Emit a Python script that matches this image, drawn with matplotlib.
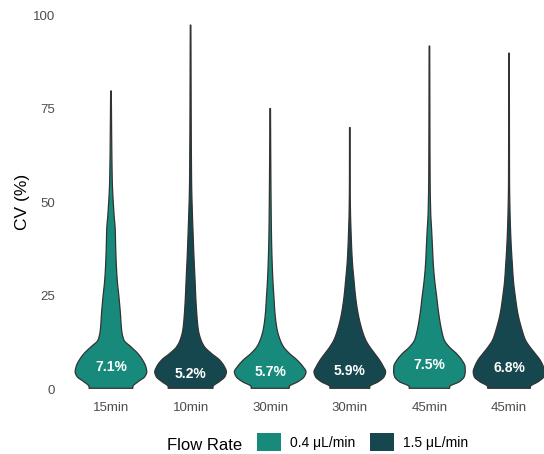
import numpy as np
import matplotlib
matplotlib.use("Agg")
import matplotlib.pyplot as plt
from matplotlib.patches import Patch

plt.rcParams["font.family"] = ["Liberation Sans", "DejaVu Sans"]

# Sampling time per violin and the flow rate it was run at
timepoints = ["15min", "10min", "30min", "30min", "45min", "45min"]
flow_rates = ["0.4 μL/min", "1.5 μL/min", "0.4 μL/min", "1.5 μL/min", "0.4 μL/min", "1.5 μL/min"]
medians = [7.1, 5.2, 5.7, 5.9, 7.5, 6.8]
cv_max = [79.7, 97.3, 75.0, 69.9, 91.7, 89.8]

# CV levels (%) at which the kernel density of each group is tabulated;
# the final level of each profile is that group's maximum CV
cv_levels = [0.2, 0.6, 2.0, 3.3, 4.6, 6.0, 7.8, 9.5, 11.3, 13.1, 15.8,
             20.2, 24.7, 29.1, 33.6, 38.1, 42.5, 47.0, 55.9]

# Relative density at each level (last value = density at the maximum)
density_15 = [22, 22, 27.5, 34, 36, 35, 31.7, 27, 20, 13, 10.7,
              9.5, 8, 6.3, 5.3, 4.7, 4.3, 3, 1.3, 0.3]
density_10 = [22.5, 22.5, 29, 34.5, 36, 34, 29, 21, 14, 10.5, 7.8,
              6.2, 5.2, 4.5, 3.7, 3, 2.4, 1.8, 1.0, 0.3]
density_30a = [19, 19, 28, 34, 35.8, 32.7, 26.7, 19.3, 13.3, 10, 7,
               4.8, 3.7, 2.7, 2.0, 1.5, 1.2, 1.0, 0.7, 0.3]
density_30b = [20, 20, 29, 34.5, 36, 33.7, 29.7, 25, 20, 16, 12.3,
               8.3, 5.8, 4.2, 2.7, 1.8, 1.2, 0.7, 0.35, 0.3]
density_45a = [20, 20, 30, 34.5, 35.5, 35.3, 32, 26.7, 19.5, 14.7, 12,
               9.2, 7.2, 5.2, 3.8, 3, 2.2, 1.3, 0.7, 0.3]
density_45b = [21, 21, 29, 34.3, 35.3, 33.8, 30.5, 25.7, 20.5, 16.2, 12.8,
               8.7, 6.2, 4.3, 3.2, 2.2, 1.5, 1.0, 0.5, 0.3]
densities = [density_15, density_10, density_30a, density_30b, density_45a, density_45b]

palette = {"0.4 μL/min": "#178A7C", "1.5 μL/min": "#16474F"}
violin_width = 0.9


def pchip(x, y, xn):
    """Shape-preserving cubic interpolation of the tabulated density."""
    x = np.asarray(x, float)
    y = np.asarray(y, float)
    h = np.diff(x)
    delta = np.diff(y) / h
    d = np.zeros_like(y)
    for k in range(1, len(x) - 1):
        if delta[k - 1] * delta[k] > 0:
            w1 = 2 * h[k] + h[k - 1]
            w2 = h[k] + 2 * h[k - 1]
            d[k] = (w1 + w2) / (w1 / delta[k - 1] + w2 / delta[k])
    d[0], d[-1] = delta[0], delta[-1]
    idx = np.clip(np.searchsorted(x, xn) - 1, 0, len(x) - 2)
    t = (xn - x[idx]) / h[idx]
    h00 = 2 * t**3 - 3 * t**2 + 1
    h10 = t**3 - 2 * t**2 + t
    h01 = -2 * t**3 + 3 * t**2
    h11 = t**3 - t**2
    return h00 * y[idx] + h10 * h[idx] * d[idx] + h01 * y[idx + 1] + h11 * h[idx] * d[idx + 1]


fig = plt.figure(figsize=(5.44, 4.54), dpi=100)
W, H = 544, 454
left, right, bottom, top = 63.2, 556.8, 398.0, 6.8
ax = fig.add_axes([left / W, 1 - bottom / H, (right - left) / W, (bottom - top) / H])

positions = np.arange(1, len(timepoints) + 1)
for pos, dens, vmax, med, rate in zip(positions, densities, cv_max, medians, flow_rates):
    y = np.array(cv_levels + [vmax])
    d = np.array(dens, dtype=float)
    yy = np.linspace(y[0], y[-1], 600)
    dd = np.clip(pchip(y, d, yy), 0, None)
    half = dd / d.max() * violin_width / 2
    xs = np.concatenate([pos - half, (pos + half)[::-1]])
    ys = np.concatenate([yy, yy[::-1]])
    ax.fill(xs, ys, facecolor=palette[rate], edgecolor="#333333",
            linewidth=0.9, joinstyle="round", zorder=2)
    ax.annotate(f"{med}%", (pos, med), xytext=(0, -3.1), textcoords="offset points",
                ha="center", va="center", color="white", fontweight="bold",
                fontsize=10, zorder=3)

ax.set_xlim(0.4, 6.6)
ax.set_ylim(-2.4, 102.2)
ax.set_xticks(positions)
ax.set_xticklabels(timepoints)
ax.set_yticks([0, 25, 50, 75, 100])
ax.tick_params(axis="both", length=0, labelsize=9.5, labelcolor="#4D4D4D")
ax.tick_params(axis="y", pad=5.8)
ax.tick_params(axis="x", pad=2.7)
for sp in ax.spines.values():
    sp.set_visible(False)
ax.set_ylabel("CV (%)", fontsize=12.5, labelpad=2)

handles = [Patch(facecolor=palette[k], edgecolor="none") for k in palette]
fig.text(167 / W, 1 - 450 / H, "Flow Rate", fontsize=12, va="baseline", ha="left")
fig.legend(handles, list(palette), loc="center left", bbox_to_anchor=(257 / W, 1 - 442 / H),
           ncol=2, frameon=False, fontsize=10, handlelength=1.73, handleheight=1.58,
           handletextpad=0.65, columnspacing=1.08, borderpad=0, borderaxespad=0)

fig.savefig("out.png", dpi=100)
